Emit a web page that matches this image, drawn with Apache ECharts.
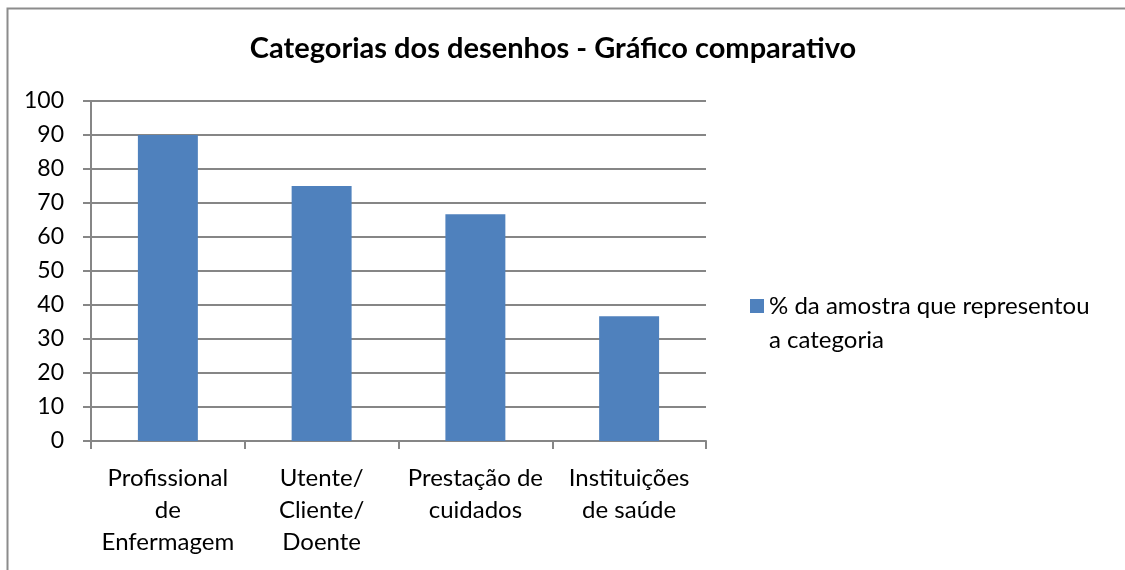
<!DOCTYPE html>
<html>
<head>
<meta charset="utf-8">
<script src="https://cdn.jsdelivr.net/npm/echarts@6/dist/echarts.min.js"></script>
<style>
  html, body { margin: 0; padding: 0; background: #fff; }
  #main { width: 1125px; height: 570px; }
</style>
</head>
<body>
<div id="main"></div>
<script>
'use strict'

// chart data
const titleText = 'Categorias dos desenhos - Gráfico comparativo';
const seriesName = '% da amostra que representou a categoria';
const legendLines = ['% da amostra que representou', 'a categoria'];
const categories = ['Profissional\nde\nEnfermagem', 'Utente/\nCliente/\nDoente', 'Prestação de\ncuidados', 'Instituições\nde saúde'];
const values = [90, 75, 66.7, 36.7];
const yMin = 0;
const yMax = 100;
const yStep = 10;

const fontName = 'Lato';
const gridColor = '#868686';

var myChart = echarts.init(document.getElementById('main'));

var option = {
  backgroundColor: '#fff',
  animation: false,
  title: {
    text: titleText,
    left: 548,
    textAlign: 'center',
    top: 29,
    textStyle: { fontFamily: fontName, fontWeight: 'bold', fontSize: 29, color: '#000' }
  },
  // outer chart border
  graphic: [{
    type: 'rect',
    shape: { x: 7.5, y: 8.5, width: 1200, height: 600 },
    style: { fill: 'none', stroke: '#8c8c8c', lineWidth: 2 },
    silent: true
  }],
  legend: {
    left: 750,
    top: 255,
    padding: 0,
    orient: 'vertical',
    icon: 'rect',
    itemWidth: 14,
    itemHeight: 14,
    // blank first line so the first real line sits beside the square
    formatter: function () { return ' \n' + legendLines.join('\n'); },
    textStyle: { fontFamily: fontName, fontSize: 24, color: '#000', lineHeight: 34 }
  },
  grid: { left: 91, right: 419, top: 101, bottom: 129 },
  xAxis: {
    type: 'category',
    data: categories,
    axisLine: { lineStyle: { color: gridColor, width: 2 } },
    axisTick: { show: true, length: 8, lineStyle: { color: gridColor, width: 2 } },
    axisLabel: { interval: 0, margin: 21, fontFamily: fontName, fontSize: 24, color: '#000', lineHeight: 32 }
  },
  yAxis: {
    type: 'value',
    min: yMin,
    max: yMax,
    interval: yStep,
    axisLine: { show: true, lineStyle: { color: gridColor, width: 2 } },
    axisTick: { show: true, length: 8, lineStyle: { color: gridColor, width: 2 } },
    splitLine: { lineStyle: { color: gridColor, width: 2 } },
    axisLabel: { margin: 27, fontFamily: fontName, fontSize: 23, color: '#000' }
  },
  series: [{
    name: seriesName,
    type: 'bar',
    data: values,
    barWidth: '39%',
    itemStyle: { color: '#4F81BD' }
  }]
};

myChart.setOption(option);
</script>
</body>
</html>
